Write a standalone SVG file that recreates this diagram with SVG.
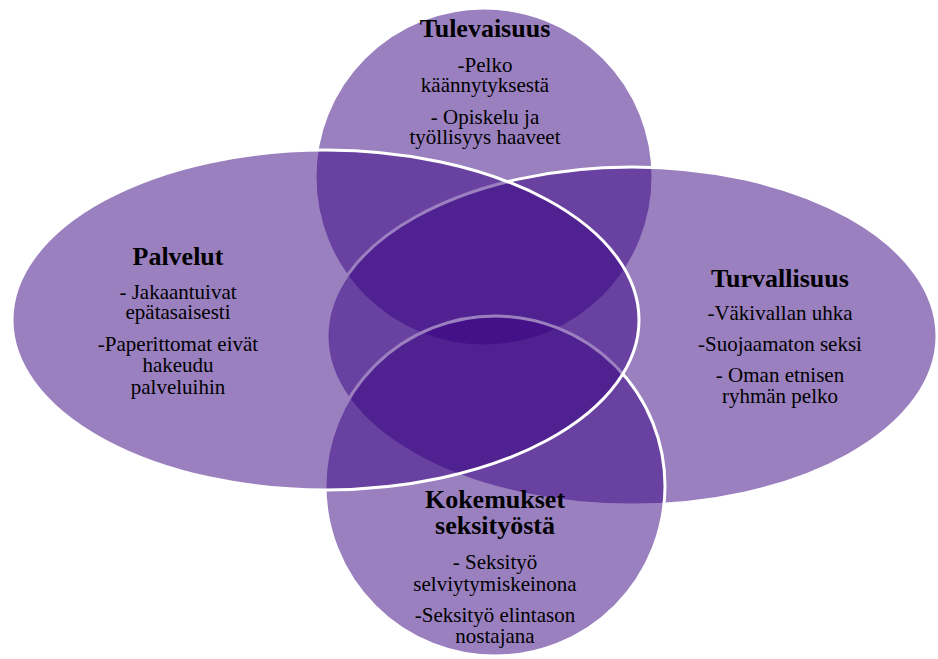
<svg xmlns="http://www.w3.org/2000/svg" width="938" height="659" viewBox="0 0 938 659">
<style>
.shape{fill:rgb(55,1,129);fill-opacity:0.5;stroke:#ffffff;stroke-width:3}
.t{font-family:"Liberation Serif","Times New Roman",serif;fill:#000;text-anchor:middle}
.h{font-size:26px;font-weight:bold}
.b{font-size:21px}
</style>
<rect width="938" height="659" fill="#ffffff"/>
<g id="node-tulevaisuus">
<circle class="shape" cx="484" cy="177" r="169"/>
<text class="t h" x="485" y="37">Tulevaisuus</text>
<text class="t b" x="485" y="72">-Pelko</text>
<text class="t b" x="485" y="92">käännytyksestä</text>
<text class="t b" x="485" y="124">- Opiskelu ja</text>
<text class="t b" x="485" y="144">työllisyys haaveet</text>
</g>
<g id="node-turvallisuus">
<ellipse class="shape" cx="632" cy="336" rx="305" ry="169"/>
<text class="t h" x="780" y="287">Turvallisuus</text>
<text class="t b" x="780" y="320">-Väkivallan uhka</text>
<text class="t b" x="780" y="351">-Suojaamaton seksi</text>
<text class="t b" x="780" y="382">- Oman etnisen</text>
<text class="t b" x="780" y="403">ryhmän pelko</text>
</g>
<g id="node-kokemukset">
<circle class="shape" cx="495" cy="486" r="170"/>
<text class="t h" x="495" y="508">Kokemukset</text>
<text class="t h" x="495" y="534">seksityöstä</text>
<text class="t b" x="495" y="569">- Seksityö</text>
<text class="t b" x="495" y="591">selviytymiskeinona</text>
<text class="t b" x="495" y="622">-Seksityö elintason</text>
<text class="t b" x="495" y="643">nostajana</text>
</g>
<g id="node-palvelut">
<ellipse class="shape" cx="325.5" cy="320" rx="313.5" ry="170"/>
<text class="t h" x="178" y="265">Palvelut</text>
<text class="t b" x="178" y="299">- Jakaantuivat</text>
<text class="t b" x="178" y="319">epätasaisesti</text>
<text class="t b" x="178" y="351">-Paperittomat eivät</text>
<text class="t b" x="178" y="372">hakeudu</text>
<text class="t b" x="178" y="394">palveluihin</text>
</g>
<g id="connectors"/>
</svg>
